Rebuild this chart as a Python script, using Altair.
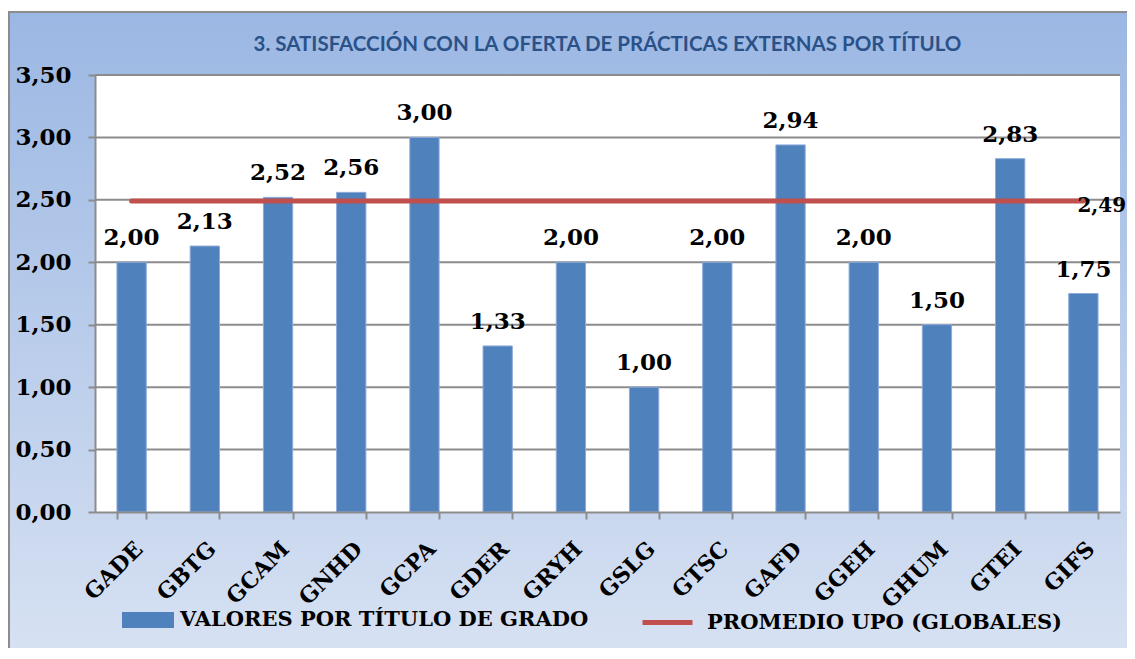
import altair as alt
import pandas as pd

categories = ["GADE", "GBTG", "GCAM", "GNHD", "GCPA", "GDER", "GRYH",
              "GSLG", "GTSC", "GAFD", "GGEH", "GHUM", "GTEI", "GIFS"]
values = [2.00, 2.13, 2.52, 2.56, 3.00, 1.33, 2.00, 1.00, 2.00, 2.94, 2.00, 1.50, 2.83, 1.75]
average = 2.49
y_ticks = [0.0, 0.5, 1.0, 1.5, 2.0, 2.5, 3.0, 3.5]
bar_series = "VALORES POR TÍTULO DE GRADO"
line_series = "PROMEDIO UPO (GLOBALES)"
title_text = "3. SATISFACCIÓN CON LA OFERTA DE PRÁCTICAS EXTERNAS POR TÍTULO"

BAR = "#4F81BD"
LINE = "#C0504D"
GRID = "#8C8C8C"
SERIF = "DejaVu Serif"
W, H = 1025, 437

df = pd.DataFrame({"cat": categories, "v": values, "serie": bar_series})
avg_df = pd.DataFrame({"cat": categories, "v": [average] * len(categories), "serie": line_series})
avg_lbl = pd.DataFrame({"cat": [categories[-1]], "v": [average]})
grid_df = pd.DataFrame({"t": y_ticks[1:]})
one = pd.DataFrame({"a": [0]})
title_df = pd.DataFrame({"t": [title_text]})

fmt = "replace(format(datum.v, '.2f'), '.', ',')"

xs = alt.Scale(domain=categories, paddingInner=0.6, paddingOuter=0.3)
ys = alt.Scale(domain=[0, 3.5], nice=False)

xaxis = alt.Axis(title=None, labelAngle=-45, labelFont=SERIF, labelFontWeight="bold",
                 labelFontSize=22, labelColor="black", domainColor=GRID, domainWidth=2,
                 tickColor=GRID, tickWidth=2, tickSize=7, tickBand="extent",
                 labelPadding=19, zindex=1, grid=False)
yaxis = alt.Axis(title=None, values=y_ticks, labelExpr="replace(format(datum.value, '.2f'), '.', ',')",
                 labelFont=SERIF, labelFontWeight="bold", labelFontSize=23, labelColor="black",
                 domainColor=GRID, domainWidth=2, tickColor=GRID, tickWidth=2, tickSize=7,
                 labelPadding=17, grid=False, zindex=1)

grad = alt.Gradient(gradient="linear", x1=0, x2=0, y1=0, y2=1,
                    stops=[alt.GradientStop(color="#9BB7E3", offset=0),
                           alt.GradientStop(color="#E2E9F5", offset=1)])

bg = alt.Chart(one).mark_rect(fill=grad, stroke=GRID, strokeWidth=2).encode(
    x=alt.value(-86), x2=alt.value(1300), y=alt.value(-63), y2=alt.value(700))
plot_bg = alt.Chart(one).mark_rect(fill="white").encode(
    x=alt.value(0), x2=alt.value(W), y=alt.value(0), y2=alt.value(H))
title = alt.Chart(title_df).mark_text(
    font="Lato, Liberation Sans", fontSize=20.5,
    fontWeight="bold", color="#2B5288", align="center", baseline="middle").encode(
    x=alt.value(W / 2), y=alt.value(-30), text="t:N")
grid = alt.Chart(grid_df).mark_rule(color=GRID, strokeWidth=2).encode(
    y=alt.Y("t:Q", scale=ys, axis=yaxis))

bars = alt.Chart(df).mark_bar(stroke="#8EAADB", strokeWidth=1).encode(
    x=alt.X("cat:N", scale=xs, axis=xaxis, sort=categories),
    y=alt.Y("v:Q", scale=ys, axis=yaxis),
    color=alt.Color("serie:N", scale=alt.Scale(range=[BAR]),
                    legend=alt.Legend(title=None, orient="none", legendX=27, legendY=519,
                                      symbolType="M-1,-0.3077H1V0.3077H-1Z", symbolSize=2704,
                                      symbolStrokeWidth=0, labelFont=SERIF, labelFontSize=21,
                                      labelFontWeight="bold", labelColor="black", labelOffset=6,
                                      labelLimit=1000, padding=0)))

line = alt.Chart(avg_df).mark_line(strokeWidth=5, strokeCap="round").encode(
    x=alt.X("cat:N", scale=xs, sort=categories),
    y=alt.Y("v:Q", scale=ys),
    stroke=alt.Stroke("serie:N", scale=alt.Scale(range=[LINE]),
                      legend=alt.Legend(title=None, orient="none", legendX=545, legendY=520,
                                        symbolType="stroke", symbolSize=2500, symbolStrokeWidth=5,
                                        labelFont=SERIF, labelFontSize=21, labelFontWeight="bold",
                                        labelColor="black", labelOffset=12, labelLimit=1000,
                                        padding=0)))

labels = alt.Chart(df).transform_calculate(lbl=fmt).mark_text(
    font=SERIF, fontSize=23, fontWeight="bold", color="black", baseline="alphabetic", dy=-17).encode(
    x=alt.X("cat:N", scale=xs, sort=categories),
    y=alt.Y("v:Q", scale=ys),
    text="lbl:N")

avg_text = alt.Chart(avg_lbl).transform_calculate(lbl=fmt).mark_text(
    font=SERIF, fontSize=20, fontWeight="bold", color="black", align="left",
    baseline="middle", dx=-6, dy=5).encode(
    x=alt.X("cat:N", scale=xs, sort=categories),
    y=alt.Y("v:Q", scale=ys),
    text="lbl:N")

chart = alt.layer(bg, plot_bg, title, grid, bars, line, labels, avg_text).properties(
    width=W, height=H,
    autosize=alt.AutoSizeParams(type="none"),
    padding={"left": 87, "top": 67, "right": 7, "bottom": 136},
).configure_view(stroke=None)

chart.save("out.html", embed_options={"renderer": "svg", "actions": False})
